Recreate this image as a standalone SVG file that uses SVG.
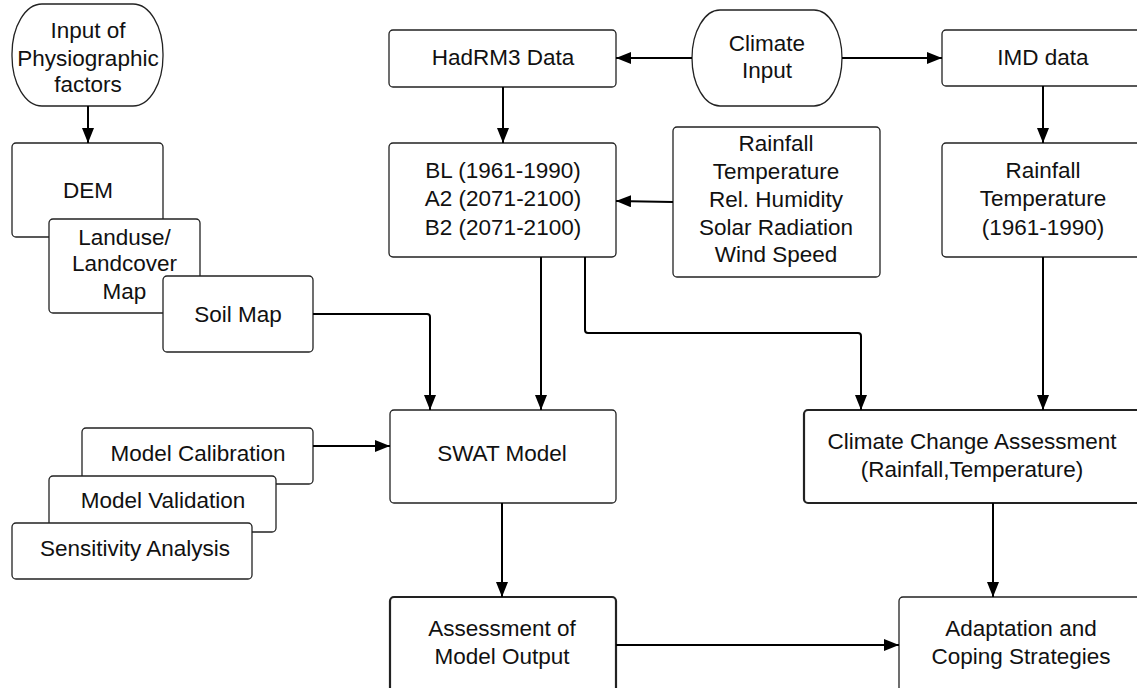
<svg xmlns="http://www.w3.org/2000/svg" width="1137" height="688" viewBox="0 0 1137 688">
<defs>
<marker id="ah" markerWidth="16" markerHeight="13" refX="15" refY="6" orient="auto" markerUnits="userSpaceOnUse">
<path d="M0,0 L15,6 L0,12 z" fill="#000"/>
</marker>
<style>
.box{fill:#fff;stroke:#222;stroke-width:1.3}
.bold{stroke-width:2.2}
.t{font-family:"Liberation Sans",Arial,sans-serif;font-size:22.5px;fill:#111;text-anchor:middle}
.c{fill:none;stroke:#000;stroke-width:2;stroke-linejoin:round}
</style>
</defs>
<rect width="1137" height="688" fill="#fff"/>

<g id="physio">
<rect class="box" x="12" y="4" width="151" height="102" rx="30" ry="50"/>
<text class="t" x="88" y="38">Input of</text>
<text class="t" x="88" y="66">Physiographic</text>
<text class="t" x="88" y="92">factors</text>
</g>
<g id="dem">
<rect class="box" x="12" y="143" width="151" height="94" rx="4"/>
<text class="t" x="88" y="198">DEM</text>
</g>
<g id="landuse">
<rect class="box" x="49" y="219" width="151" height="94" rx="4"/>
<text class="t" x="124.5" y="245">Landuse/</text>
<text class="t" x="124.5" y="271">Landcover</text>
<text class="t" x="124.5" y="299">Map</text>
</g>
<g id="soil">
<rect class="box" x="163" y="276" width="150" height="76" rx="4"/>
<text class="t" x="238" y="322">Soil Map</text>
</g>

<g id="hadrm3">
<rect class="box" x="389" y="30" width="227" height="57" rx="4"/>
<text class="t" x="503" y="65">HadRM3 Data</text>
</g>
<g id="climate-input">
<rect class="box" x="692" y="10" width="150" height="96" rx="28" ry="48"/>
<text class="t" x="767" y="51">Climate</text>
<text class="t" x="767" y="78">Input</text>
</g>
<g id="imd">
<rect class="box" x="942" y="30" width="202" height="56" rx="4"/>
<text class="t" x="1043" y="65">IMD data</text>
</g>
<g id="scenarios">
<rect class="box" x="389" y="143" width="227" height="114" rx="4"/>
<text class="t" x="503" y="178">BL (1961-1990)</text>
<text class="t" x="503" y="206">A2 (2071-2100)</text>
<text class="t" x="503" y="235">B2 (2071-2100)</text>
</g>
<g id="climate-vars">
<rect class="box" x="673" y="127" width="207" height="150" rx="4"/>
<text class="t" x="776" y="151">Rainfall</text>
<text class="t" x="776" y="179">Temperature</text>
<text class="t" x="776" y="207">Rel. Humidity</text>
<text class="t" x="776" y="235">Solar Radiation</text>
<text class="t" x="776" y="262">Wind Speed</text>
</g>
<g id="imd-vars">
<rect class="box" x="942" y="143" width="202" height="114" rx="4"/>
<text class="t" x="1043" y="178">Rainfall</text>
<text class="t" x="1043" y="206">Temperature</text>
<text class="t" x="1043" y="235">(1961-1990)</text>
</g>

<g id="calibration">
<rect class="box" x="82" y="428" width="231" height="56" rx="4"/>
<text class="t" x="198" y="461">Model Calibration</text>
</g>
<g id="validation">
<rect class="box" x="49" y="476" width="227" height="56" rx="4"/>
<text class="t" x="163" y="508">Model Validation</text>
</g>
<g id="sensitivity">
<rect class="box" x="12" y="523" width="240" height="56" rx="4"/>
<text class="t" x="135" y="556">Sensitivity Analysis</text>
</g>

<g id="swat">
<rect class="box" x="390" y="410" width="226" height="93" rx="4"/>
<text class="t" x="502" y="461">SWAT Model</text>
</g>
<g id="cca">
<rect class="box bold" x="804" y="410" width="340" height="93" rx="4"/>
<text class="t" x="972" y="449">Climate Change Assessment</text>
<text class="t" x="972" y="477">(Rainfall,Temperature)</text>
</g>
<g id="assessment">
<rect class="box bold" x="390" y="597" width="226" height="95" rx="4"/>
<text class="t" x="502" y="636">Assessment of</text>
<text class="t" x="502" y="664">Model Output</text>
</g>
<g id="adaptation">
<rect class="box" x="899" y="597" width="245" height="95" rx="4"/>
<text class="t" x="1021" y="636">Adaptation and</text>
<text class="t" x="1021" y="664">Coping Strategies</text>
</g>

<g id="connectors">
<path class="c" d="M88,106 V143" marker-end="url(#ah)"/>
<path class="c" d="M692,58 H616" marker-end="url(#ah)"/>
<path class="c" d="M842,58 H942" marker-end="url(#ah)"/>
<path class="c" d="M503,87 V143" marker-end="url(#ah)"/>
<path class="c" d="M1043,86 V143" marker-end="url(#ah)"/>
<path class="c" d="M673,202 L616,201" marker-end="url(#ah)"/>
<path class="c" d="M313,314 H427 Q430,314 430,317 V410" marker-end="url(#ah)"/>
<path class="c" d="M541,257 V410" marker-end="url(#ah)"/>
<path class="c" d="M585,257 V330 Q585,333 588,333 H858 Q861,333 861,336 V410" marker-end="url(#ah)"/>
<path class="c" d="M1043,257 V410" marker-end="url(#ah)"/>
<path class="c" d="M313,446 H390" marker-end="url(#ah)"/>
<path class="c" d="M502,503 V597" marker-end="url(#ah)"/>
<path class="c" d="M993,503 V597" marker-end="url(#ah)"/>
<path class="c" d="M616,645 H899" marker-end="url(#ah)"/>
</g>
</svg>
